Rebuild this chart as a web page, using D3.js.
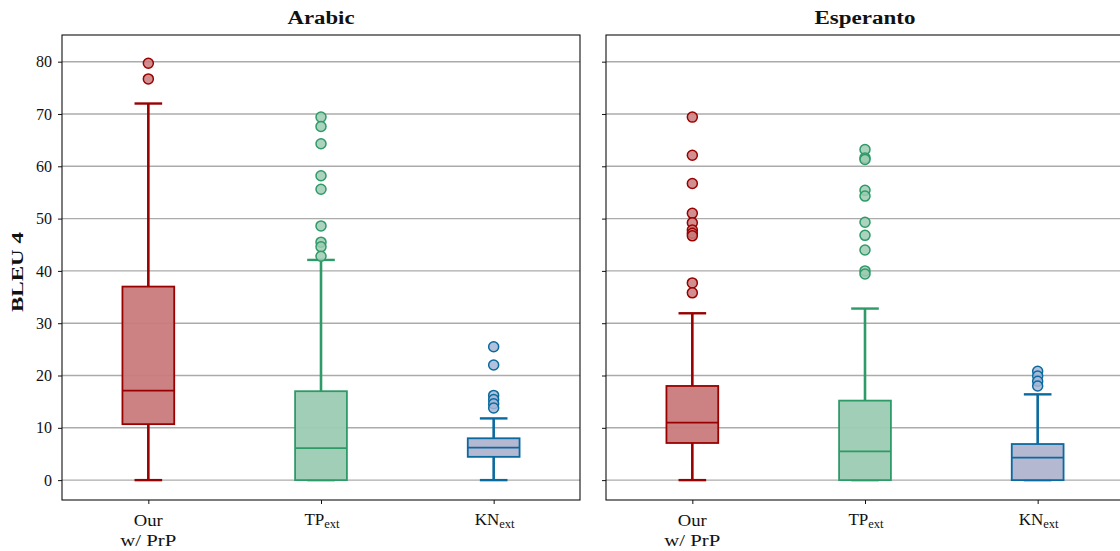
<!DOCTYPE html>
<html><head><meta charset="utf-8">
<script src="https://cdn.jsdelivr.net/npm/d3@7"></script>
<style>body{margin:0;background:#fff}svg{display:block}text{font-family:"Liberation Serif","DejaVu Serif",serif;fill:#111}</style>
</head><body><svg id="c" width="1120" height="551"></svg>
<script>
const panels = ["Arabic", "Esperanto"];
const categories = ["Our|w/ PrP", "TP|ext", "KN|ext"];
const yTicks = [0, 10, 20, 30, 40, 50, 60, 70, 80];

const arabicQ1 = [10.7, 0, 4.45];
const arabicMedian = [17.1, 6.1, 6.2];
const arabicQ3 = [37.0, 17.0, 8.0];
const arabicWhiskerLow = [0, 0, 0];
const arabicWhiskerHigh = [72.0, 42.1, 11.8];
const arabicOutliers = [[79.7, 76.7], [69.4, 67.6, 64.3, 58.2, 55.6, 48.6, 45.5, 44.6, 42.8], [25.5, 22.0, 16.2, 15.4, 14.6, 13.8]];

const esperantoQ1 = [7.1, 0, 0];
const esperantoMedian = [11.0, 5.5, 4.3];
const esperantoQ3 = [18.0, 15.2, 6.9];
const esperantoWhiskerLow = [0, 0, 0];
const esperantoWhiskerHigh = [31.9, 32.8, 16.4];
const esperantoOutliers = [[69.4, 62.1, 56.7, 51.0, 49.2, 47.8, 47.2, 46.7, 37.7, 35.8], [63.2, 61.6, 61.3, 55.4, 54.3, 49.3, 46.8, 44.0, 40.0, 39.4], [20.8, 19.9, 18.9, 18.0]];

const strokeColors = ["#990000", "#2e9a68", "#0a6aa0"];
const fillColors = ["#c97b7b", "#9ccbb3", "#b0b4cf"];
const outlierFills = ["#c97b7b", "#9ccbb3", "#a6b6d6"];

const stats = [
  {q1: arabicQ1, med: arabicMedian, q3: arabicQ3, lo: arabicWhiskerLow, hi: arabicWhiskerHigh, out: arabicOutliers},
  {q1: esperantoQ1, med: esperantoMedian, q3: esperantoQ3, lo: esperantoWhiskerLow, hi: esperantoWhiskerHigh, out: esperantoOutliers}
];

(function () {
const svg = d3.select("#c");
const plotTop = 35, plotBottom = 500, pw = 518;
const lefts = [62, 606];
const y = d3.scaleLinear().domain([-3.8, 85.1]).range([plotBottom, plotTop]);
const titleLen = {"Arabic": 67, "Esperanto": 101};

panels.forEach((name, p) => {
  const L = lefts[p];
  const x = d3.scaleLinear().domain([-0.5, 2.5]).range([L, L + pw]);
  const g = svg.append("g");
  g.selectAll("line.grid").data(yTicks).enter().append("line")
    .attr("x1", L).attr("x2", L + pw).attr("y1", d => y(d)).attr("y2", d => y(d))
    .attr("stroke", "#ababab").attr("stroke-width", 1.4);
  const ya = d3.axisLeft(y).tickValues(yTicks).tickSize(4).tickPadding(6).tickFormat(p === 0 ? d3.format("d") : () => "");
  const yg = g.append("g").attr("transform", `translate(${L},0)`).call(ya);
  yg.select(".domain").remove();
  yg.selectAll("line").attr("stroke", "#111");
  yg.selectAll("text").attr("font-size", 16).attr("fill", "#111").attr("font-family", "Liberation Serif, serif");
  const xa = d3.axisBottom(x).tickValues([0, 1, 2]).tickSize(4).tickFormat(() => "");
  const xg = g.append("g").attr("transform", `translate(0,${plotBottom})`).call(xa);
  xg.select(".domain").remove();
  xg.selectAll("line").attr("stroke", "#111");
  categories.forEach((c, i) => {
    const [a, b] = c.split("|");
    if (i === 0) {
      g.append("text").attr("x", x(i)).attr("y", 526).attr("text-anchor", "middle").attr("font-size", 16.5)
        .attr("textLength", 29).attr("lengthAdjust", "spacingAndGlyphs").text(a);
      g.append("text").attr("x", x(i)).attr("y", 546).attr("text-anchor", "middle").attr("font-size", 16.5)
        .attr("textLength", 56).attr("lengthAdjust", "spacingAndGlyphs").text(b);
    } else {
      const t = g.append("text").attr("x", x(i) + 1).attr("y", 525).attr("text-anchor", "middle").attr("font-size", 17);
      t.append("tspan").text(a);
      t.append("tspan").attr("font-size", 12.5).attr("dy", 3).text(b);
    }
  });
  const s = stats[p];
  const bw = x(0.15) - x(0), cw = x(0.08) - x(0);
  categories.forEach((c, i) => {
    const cx = x(i), col = strokeColors[i];
    g.append("line").attr("x1", cx).attr("x2", cx).attr("y1", y(s.q3[i])).attr("y2", y(s.hi[i])).attr("stroke", col).attr("stroke-width", 2.6);
    g.append("line").attr("x1", cx).attr("x2", cx).attr("y1", y(s.q1[i])).attr("y2", y(s.lo[i])).attr("stroke", col).attr("stroke-width", 2.6);
    [s.hi[i], s.lo[i]].forEach(v => g.append("line").attr("x1", cx - cw).attr("x2", cx + cw).attr("y1", y(v)).attr("y2", y(v)).attr("stroke", col).attr("stroke-width", 2.4));
    g.append("rect").attr("x", cx - bw).attr("width", 2 * bw).attr("y", y(s.q3[i])).attr("height", y(s.q1[i]) - y(s.q3[i]))
      .attr("fill", fillColors[i]).attr("stroke", col).attr("stroke-width", 1.8).attr("fill-opacity", 0.95);
    g.append("line").attr("x1", cx - bw).attr("x2", cx + bw).attr("y1", y(s.med[i])).attr("y2", y(s.med[i])).attr("stroke", col).attr("stroke-width", 1.8);
    g.selectAll(null).data(s.out[i]).enter().append("circle")
      .attr("cx", cx).attr("cy", d => y(d)).attr("r", 5)
      .attr("fill", outlierFills[i]).attr("fill-opacity", 0.85).attr("stroke", col).attr("stroke-width", 1.5);
  });
  g.append("rect").attr("x", L).attr("y", plotTop).attr("width", pw).attr("height", plotBottom - plotTop)
    .attr("fill", "none").attr("stroke", "#111").attr("stroke-width", 1.1);
  g.append("text").attr("x", L + pw / 2).attr("y", 24).attr("text-anchor", "middle").attr("font-size", 18).attr("font-weight", "bold")
    .attr("textLength", titleLen[name]).attr("lengthAdjust", "spacingAndGlyphs").text(name);
});
svg.append("text").attr("transform", `translate(23,272) rotate(-90)`).attr("text-anchor", "middle")
  .attr("font-size", 17).attr("font-weight", "bold").attr("textLength", 80).attr("lengthAdjust", "spacingAndGlyphs").text("BLEU 4");
})();
</script></body></html>
